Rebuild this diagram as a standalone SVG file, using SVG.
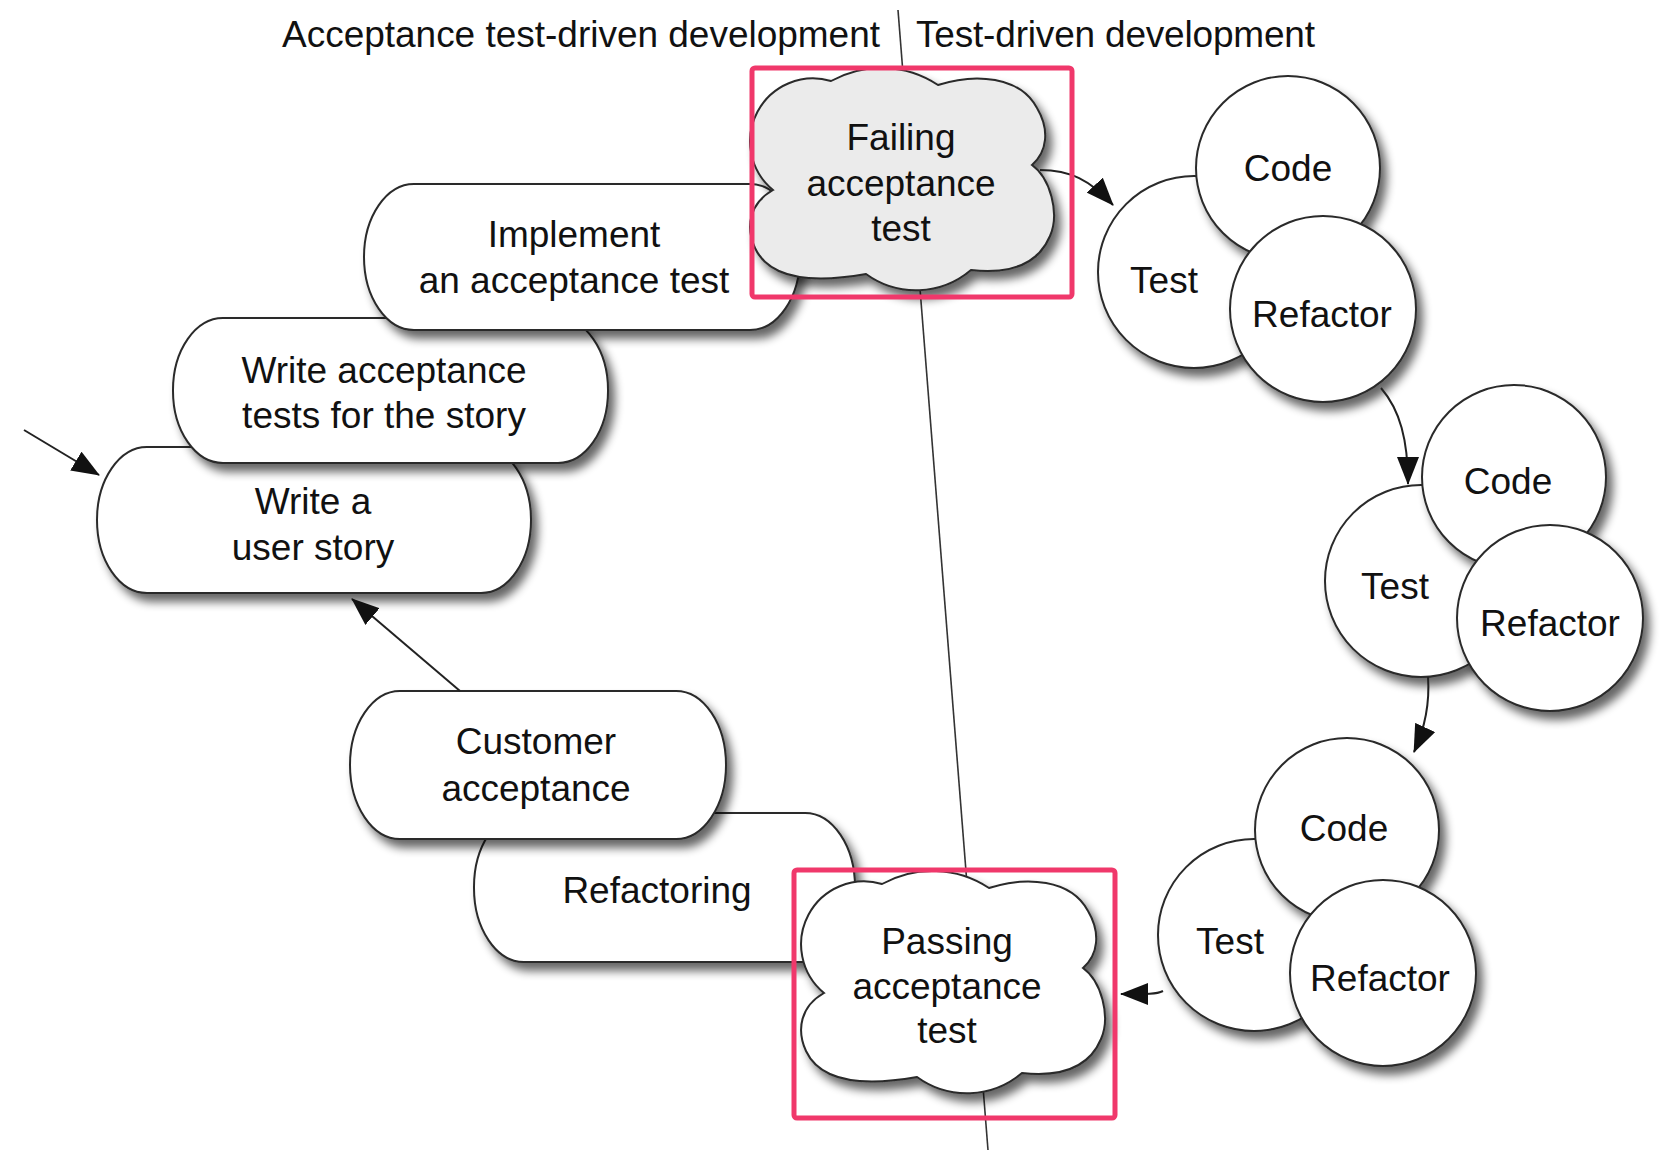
<svg xmlns="http://www.w3.org/2000/svg" xmlns:xlink="http://www.w3.org/1999/xlink" width="1676" height="1164" viewBox="0 0 1676 1164">
<defs>
<style>
.shape{stroke:#2a2a2a;stroke-width:2;filter:url(#sh)}
.white{fill:#ffffff}
.grey{fill:#ebebeb}
.lbl{font-family:"Liberation Sans",Arial,Helvetica,sans-serif;font-size:37px;fill:#111;text-anchor:middle}
.hdr{font-family:"Liberation Sans",Arial,Helvetica,sans-serif;font-size:37px;fill:#111}
.conn{fill:none;stroke:#222;stroke-width:2;marker-end:url(#ah)}
.divider{fill:none;stroke:#333;stroke-width:1.6}
.hl{fill:none;stroke:#f0386b;stroke-width:5}
</style>
<filter id="sh" x="-15%" y="-15%" width="140%" height="145%">
<feGaussianBlur in="SourceAlpha" stdDeviation="5"/>
<feOffset dx="6" dy="8" result="o"/>
<feComponentTransfer><feFuncA type="linear" slope="0.6"/></feComponentTransfer>
<feMerge><feMergeNode/><feMergeNode in="SourceGraphic"/></feMerge>
</filter>
<marker id="ah" viewBox="0 0 28 22" refX="27" refY="11" markerWidth="28" markerHeight="22" markerUnits="userSpaceOnUse" orient="auto">
<path d="M0,0 L28,11 L0,22 z" fill="#111"/>
</marker>
<path id="cloud" d="M28,122 A63,63 0 0 1 86,13 A103,103 0 0 1 193,17 C230,5 275,8 292,40 C305,62 302,84 287,97 C305,110 315,145 305,168 C295,192 272,207 226,202 A85,85 0 0 1 121,206 C70,215 25,212 10,180 C0,158 5,135 28,122 Z"/>
</defs>

<rect width="1676" height="1164" fill="#ffffff"/>

<g id="divider">
<line class="divider" x1="898" y1="10" x2="988" y2="1150"/>
</g>

<g id="node-write-user-story">
<rect class="shape white" x="97" y="447" width="434" height="146" rx="50" ry="73"/>
<text class="lbl" x="313" y="514">Write a</text>
<text class="lbl" x="313" y="560">user story</text>
</g>

<g id="node-write-acceptance-tests">
<rect class="shape white" x="173" y="318" width="435" height="145" rx="50" ry="72"/>
<text class="lbl" x="384" y="383">Write acceptance</text>
<text class="lbl" x="384" y="428">tests for the story</text>
</g>

<g id="node-implement">
<rect class="shape white" x="364" y="184" width="436" height="146" rx="50" ry="73"/>
<text class="lbl" x="574" y="247">Implement</text>
<text class="lbl" x="574" y="293">an acceptance test</text>
</g>

<g id="node-refactoring">
<rect class="shape white" x="474" y="813" width="381" height="149" rx="50" ry="74"/>
<text class="lbl" x="657" y="903">Refactoring</text>
</g>

<g id="node-customer-acceptance">
<rect class="shape white" x="350" y="691" width="376" height="148" rx="50" ry="74"/>
<text class="lbl" x="536" y="754">Customer</text>
<text class="lbl" x="536" y="801">acceptance</text>
</g>

<g id="node-failing">
<use xlink:href="#cloud" href="#cloud" class="shape grey" transform="translate(745,68)"/>
<text class="lbl" x="901" y="150">Failing</text>
<text class="lbl" x="901" y="196">acceptance</text>
<text class="lbl" x="901" y="241">test</text>
</g>

<g id="node-passing">
<use xlink:href="#cloud" href="#cloud" class="shape white" transform="translate(796,871)"/>
<text class="lbl" x="947" y="954">Passing</text>
<text class="lbl" x="947" y="999">acceptance</text>
<text class="lbl" x="947" y="1043">test</text>
</g>

<g id="node-tdd-1">
<circle class="shape white" cx="1194" cy="272" r="96"/>
<circle class="shape white" cx="1288" cy="168" r="92"/>
<circle class="shape white" cx="1323" cy="309" r="93"/>
<text class="lbl" x="1288" y="181">Code</text>
<text class="lbl" x="1164" y="293">Test</text>
<text class="lbl" x="1322" y="327">Refactor</text>
</g>

<g id="node-tdd-2">
<circle class="shape white" cx="1421" cy="581" r="96"/>
<circle class="shape white" cx="1514" cy="477" r="92"/>
<circle class="shape white" cx="1550" cy="618" r="93"/>
<text class="lbl" x="1508" y="494">Code</text>
<text class="lbl" x="1395" y="599">Test</text>
<text class="lbl" x="1550" y="636">Refactor</text>
</g>

<g id="node-tdd-3">
<circle class="shape white" cx="1254" cy="935" r="96"/>
<circle class="shape white" cx="1347" cy="830" r="92"/>
<circle class="shape white" cx="1383" cy="973" r="93"/>
<text class="lbl" x="1344" y="841">Code</text>
<text class="lbl" x="1230" y="954">Test</text>
<text class="lbl" x="1380" y="991">Refactor</text>
</g>

<g id="connectors">
<path class="conn" d="M24,430 L99,475"/>
<path class="conn" d="M460,691 L352,599"/>
<path class="conn" d="M1040,170 C1070,170 1090,180 1113,205"/>
<path class="conn" d="M1381,388 C1400,410 1408,440 1408,484"/>
<path class="conn" d="M1428,677 C1430,705 1424,730 1414,752"/>
<path class="conn" d="M1163,991 C1155,995 1140,994 1121,994"/>
</g>

<g id="headers">
<text class="hdr" x="282" y="47" textLength="598" lengthAdjust="spacing">Acceptance test-driven development</text>
<text class="hdr" x="916" y="47" textLength="399" lengthAdjust="spacing">Test-driven development</text>
</g>

<g id="highlights">
<rect class="hl" x="752" y="68" width="320" height="229" rx="3"/>
<rect class="hl" x="794" y="870" width="321" height="248" rx="3"/>
</g>
</svg>
